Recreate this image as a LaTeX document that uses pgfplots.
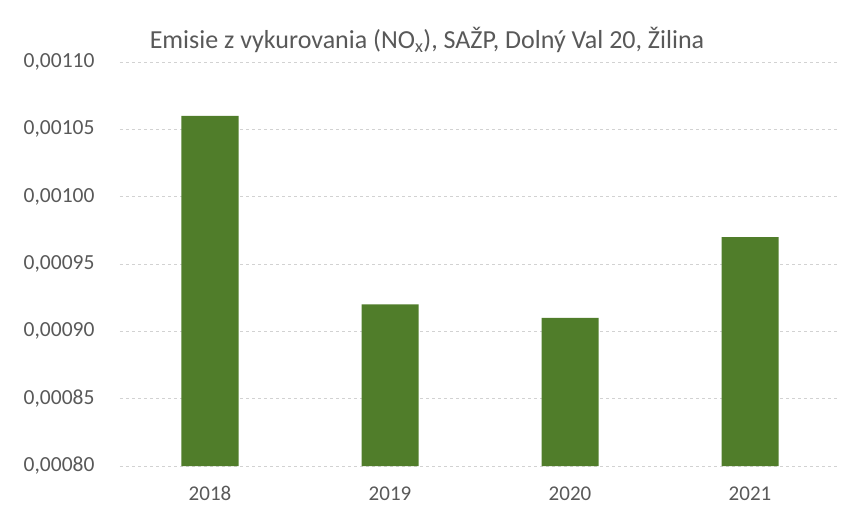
\documentclass[border=0pt]{standalone}
\usepackage{fontspec}
\setmainfont{Carlito}
\usepackage{pgfplots}
\pgfplotsset{compat=1.18}
\definecolor{barg}{RGB}{80,125,42}
\definecolor{txt}{RGB}{89,89,89}
\definecolor{grd}{RGB}{210,210,210}
\begin{document}
\begin{tikzpicture}
\path[fill=white] (0,0) rectangle (852pt,517pt);
\node[text=txt, font=\fontsize{26}{30}\selectfont] at (427pt,477pt) {Emisie z vykurovania (NO\textsubscript{x}), SAŽP, Dolný Val 20, Žilina};
\begin{axis}[
  at={(120pt,51pt)}, anchor=south west,
  scale only axis, width=720pt, height=404pt,
  ybar, bar width=57pt,
  xmin=-0.5, xmax=3.5, ymin=0.0008, ymax=0.0011,
  xtick={0,1,2,3}, xticklabels={2018,2019,2020,2021},
  ytick={0.0008,0.00085,0.0009,0.00095,0.001,0.00105,0.0011},
  scaled y ticks=false,
  yticklabel style={/pgf/number format/fixed, /pgf/number format/fixed zerofill, /pgf/number format/precision=5, /pgf/number format/use comma, /pgf/number format/assume math mode=true},
  yticklabel style={text=txt, font=\fontsize{21.5}{24}\selectfont, xshift=-22pt},
  xticklabel style={text=txt, font=\fontsize{21}{24}\selectfont, yshift=-17pt},
  axis line style={draw=none},
  major tick length=0pt,
  ymajorgrids, grid style={grd, dashed, line width=0.8pt},
]
\addplot[fill=barg, draw=none] coordinates {(0,0.00106) (1,0.00092) (2,0.00091) (3,0.00097)};
\end{axis}
\end{tikzpicture}
\end{document}
